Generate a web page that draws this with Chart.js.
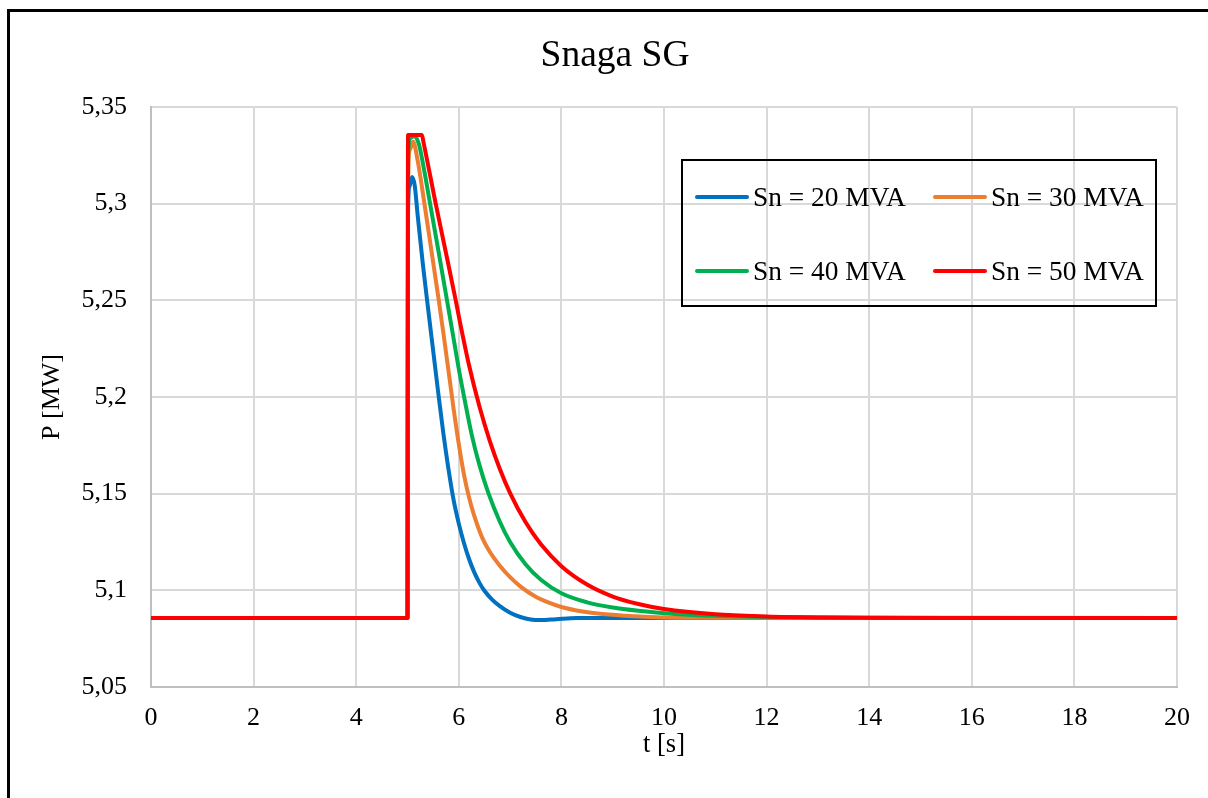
<!DOCTYPE html>
<html>
<head>
<meta charset="utf-8">
<title>Snaga SG</title>
<script src="https://cdn.jsdelivr.net/npm/chart.js@4.4.1/dist/chart.umd.min.js"></script>
<style>
    html, body { margin: 0; padding: 0; overflow: hidden; background: #fff; }
    body { width: 1208px; height: 798px; position: relative; font-family: "Liberation Serif", "Times New Roman", serif; }
    #frame { position: absolute; left: 7px; top: 9px; width: 1300px; height: 900px; border-left: 3px solid #000; border-top: 3px solid #000; pointer-events: none; }
    #chart-container { position: absolute; left: 0; top: 0; width: 1240px; height: 798px; }
    #legend-box { position: absolute; left: 681px; top: 159px; width: 472px; height: 144px; border: 2px solid #000; }
    .legend-item { position: absolute; height: 30px; display: flex; align-items: center; font-size: 27.4px; color: #000; white-space: nowrap; }
    .legend-line { width: 54px; height: 4px; border-radius: 2px; margin-right: 4px; }
</style>
</head>
<body>
<script>
// time [s] and active power [MW], one pair of arrays per rating
const timeSn20 = [0, 5.0, 5.01, 5.04, 5.09, 5.14, 5.2, 5.3, 5.4, 5.5, 5.6, 5.7, 5.8, 5.9, 6.0, 6.1, 6.2, 6.3, 6.4, 6.5, 6.65, 6.8, 7.0, 7.2, 7.4, 7.6, 7.9, 8.3, 20];
const powerSn20 = [5.0857, 5.0857, 5.295, 5.309, 5.3138, 5.3095, 5.2935, 5.2685, 5.246, 5.224, 5.202, 5.181, 5.1625, 5.1465, 5.1345, 5.1245, 5.1162, 5.1094, 5.104, 5.0998, 5.0952, 5.0918, 5.0884, 5.0862, 5.0849, 5.0846, 5.0851, 5.0857, 5.0857];

const timeSn30 = [0, 5.0, 5.01, 5.05, 5.11, 5.2, 5.33, 5.47, 5.61, 5.7, 5.8, 5.9, 5.98, 6.1, 6.2, 6.3, 6.46, 6.6, 6.82, 7.0, 7.21, 7.5, 7.73, 8.0, 8.38, 8.8, 9.42, 10.5, 20];
const powerSn30 = [5.0857, 5.0857, 5.31, 5.328, 5.332, 5.322, 5.30, 5.275, 5.25, 5.233, 5.2135, 5.1935, 5.179, 5.16, 5.148, 5.1386, 5.127, 5.1201, 5.1121, 5.1068, 5.1018, 5.0967, 5.0939, 5.0914, 5.0892, 5.0877, 5.0866, 5.0858, 5.0857];

const timeSn40 = [0, 5.0, 5.01, 5.06, 5.13, 5.22, 5.32, 5.44, 5.6, 5.77, 5.9, 6.0, 6.1, 6.26, 6.4, 6.57, 6.8, 7.0, 7.3, 7.6, 8.0, 8.5, 9.0, 9.5, 10, 11, 12, 14, 20];
const powerSn40 = [5.0857, 5.0857, 5.325, 5.334, 5.335, 5.331, 5.318, 5.30, 5.276, 5.25, 5.23, 5.2145, 5.2005, 5.1795, 5.165, 5.1508, 5.1355, 5.125, 5.1135, 5.1055, 5.0985, 5.0938, 5.0911, 5.0894, 5.0882, 5.0868, 5.0862, 5.0858, 5.0857];

const timeSn50 = [0, 5.0, 5.01, 5.28, 5.31, 5.55, 5.75, 5.94, 6.0, 6.2, 6.4, 6.6, 6.8, 7.0, 7.3, 7.6, 8.0, 8.5, 9.0, 9.5, 10, 11, 12, 13, 14, 16, 20];
const powerSn50 = [5.0857, 5.0857, 5.3355, 5.3355, 5.332, 5.30, 5.2745, 5.25, 5.2418, 5.2164, 5.1953, 5.1776, 5.1628, 5.1503, 5.1353, 5.1238, 5.1125, 5.103, 5.0968, 5.0929, 5.0903, 5.0876, 5.0865, 5.086, 5.0858, 5.0857, 5.0857];

const seriesLabels = ["Sn = 20 MVA", "Sn = 30 MVA", "Sn = 40 MVA", "Sn = 50 MVA"];
const seriesColors = ["#0070C0", "#ED7D31", "#00B050", "#FF0000"];

const xTicks = { min: 0, max: 20, step: 2 };
const yTicks = { min: 5.05, max: 5.35, step: 0.05 };

const fontFamily = '"Liberation Serif", "Times New Roman", serif';


function toPoints(times, values) {
    return times.map((t, i) => ({ x: t, y: values[i] }));
}

function formatComma(value) {
    return String(Math.round(value * 100) / 100).replace(".", ",");
}

function makeLegend(datasets) {
    let box = document.createElement("div");
    box.id = "legend-box";

    let spots = [[12, 21], [250, 21], [12, 95], [250, 95]];

    datasets.forEach((ds, i) => {
        let item = document.createElement("div");
        item.className = "legend-item";
        item.style.left = spots[i][0] + "px";
        item.style.top = spots[i][1] + "px";

        let line = document.createElement("span");
        line.className = "legend-line";
        line.style.background = ds.borderColor;

        let text = document.createElement("span");
        text.textContent = ds.label;

        item.appendChild(line);
        item.appendChild(text);
        box.appendChild(item);
    });

    document.body.appendChild(box);
}

function makeChart() {
    let container = document.createElement("div");
    container.id = "chart-container";
    let graphic = document.createElement("canvas");
    graphic.width = 1240;
    graphic.height = 798;
    container.appendChild(graphic);
    document.body.appendChild(container);

    let frame = document.createElement("div");
    frame.id = "frame";
    document.body.appendChild(frame);

    let timeData = [timeSn20, timeSn30, timeSn40, timeSn50];
    let powerData = [powerSn20, powerSn30, powerSn40, powerSn50];

    let datasets = seriesLabels.map((label, i) => ({
        label: label,
        data: toPoints(timeData[i], powerData[i]),
        borderColor: seriesColors[i],
        backgroundColor: seriesColors[i],
        borderWidth: 4,
        pointRadius: 0,
        cubicInterpolationMode: "monotone",
        borderCapStyle: "round",
        borderJoinStyle: "round",
        fill: false,
        order: seriesLabels.length - i
    }));

    Chart.defaults.font.family = fontFamily;
    Chart.defaults.color = "#000";

    new Chart(graphic.getContext("2d"), {
        type: "line",
        data: { datasets: datasets },
        options: {
            responsive: false,
            animation: false,
            layout: { padding: { left: 0, right: 10, top: 0, bottom: 0 } },
            plugins: {
                legend: { display: false },
                tooltip: { enabled: false },
                title: {
                    display: true,
                    text: "Snaga SG",
                    color: "#000",
                    font: { size: 37.5, weight: "normal", family: fontFamily },
                    padding: { top: 34, bottom: 28 }
                }
            },
            scales: {
                x: {
                    type: "linear",
                    min: xTicks.min,
                    max: xTicks.max,
                    afterFit: (scale) => { scale.height = 111; },
                    grid: { color: "#d9d9d9", lineWidth: 2, drawTicks: false },
                    border: { color: "#bfbfbf", width: 2 },
                    ticks: {
                        stepSize: xTicks.step,
                        padding: 16,
                        maxRotation: 0,
                        font: { size: 26, family: fontFamily },
                        color: "#000"
                    },
                    title: {
                        display: true,
                        text: "t [s]",
                        color: "#000",
                        font: { size: 26.5, family: fontFamily },
                        padding: { top: 0, bottom: 37 }
                    }
                },
                y: {
                    type: "linear",
                    position: "left",
                    min: yTicks.min,
                    max: yTicks.max,
                    afterFit: (scale) => { scale.width = 151; },
                    grid: { color: "#d9d9d9", lineWidth: 2, drawTicks: false },
                    border: { color: "#bfbfbf", width: 2 },
                    ticks: {
                        stepSize: yTicks.step,
                        padding: 24,
                        font: { size: 26, family: fontFamily },
                        color: "#000",
                        callback: (value) => formatComma(value)
                    },
                    title: {
                        display: true,
                        text: "P [MW]",
                        color: "#000",
                        font: { size: 26, family: fontFamily },
                        padding: { top: 37, bottom: 0 }
                    }
                },
                // empty right box, keeps the title centred like the original
                spacer: {
                    type: "linear",
                    position: "right",
                    display: true,
                    afterFit: (scale) => { scale.width = 53; },
                    grid: { display: false },
                    border: { display: false },
                    ticks: { display: false }
                }
            }
        }
    });

    makeLegend(datasets);
}

makeChart();
</script>
</body>
</html>
